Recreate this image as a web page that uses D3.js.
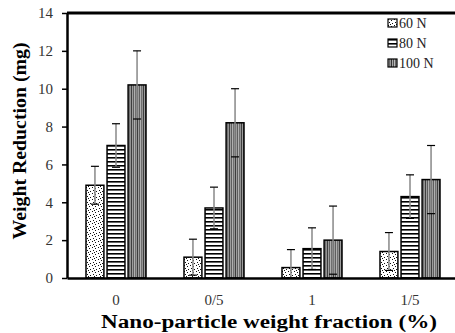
<!DOCTYPE html>
<html>
<head>
<meta charset="utf-8">
<script src="https://cdn.jsdelivr.net/npm/d3@7"></script>
<style>
  body { margin: 0; background: #fff; }
  text { font-family: "Liberation Serif", "Times New Roman", serif; }
</style>
</head>
<body>
<div id="chart"></div>
<script>
// data
var categories = ["0", "0/5", "1", "1/5"];
var seriesNames = ["60 N", "80 N", "100 N"];
var load60 = [4.9, 1.1, 0.55, 1.4];
var load80 = [7.0, 3.7, 1.55, 4.3];
var load100 = [10.2, 8.2, 2.0, 5.2];
var err60 = [1.0, 0.95, 0.95, 1.0];
var err80 = [1.15, 1.1, 1.1, 1.15];
var err100 = [1.8, 1.8, 1.8, 1.8];
var yTicks = [0, 2, 4, 6, 8, 10, 12, 14];

var values = [load60, load80, load100];
var errors = [err60, err80, err100];
var fills = ["url(#dots)", "url(#hstripes)", "url(#vstripes)"];

var width = 455, height = 333;
var margin = {top: 13, right: -4, bottom: 55, left: 67};
var innerW = width - margin.left - margin.right,
    innerH = height - margin.top - margin.bottom;

var svg = d3.select("#chart").append("svg")
    .attr("width", width)
    .attr("height", height);

// fill patterns
var defs = svg.append("defs");
var p1 = defs.append("pattern").attr("id", "dots")
    .attr("patternUnits", "userSpaceOnUse").attr("width", 6).attr("height", 6);
p1.append("rect").attr("width", 6).attr("height", 6).attr("fill", "#fff");
[[0,0],[3,1],[1,3],[4,4],[2,5]].forEach(function(d) {
  p1.append("rect").attr("x", d[0]).attr("y", d[1]).attr("width", 1).attr("height", 1).attr("fill", "#111");
});
var p2 = defs.append("pattern").attr("id", "hstripes")
    .attr("patternUnits", "userSpaceOnUse").attr("width", 4).attr("height", 4);
p2.append("rect").attr("width", 4).attr("height", 4).attr("fill", "#fff");
p2.append("rect").attr("y", 0).attr("width", 4).attr("height", 1.6).attr("fill", "#000");
var p3 = defs.append("pattern").attr("id", "vstripes")
    .attr("patternUnits", "userSpaceOnUse").attr("width", 6).attr("height", 6);
["#bbb", "#666", "#999", "#333", "#aaa", "#555"].forEach(function(c, i) {
  p3.append("rect").attr("x", i).attr("width", 1).attr("height", 6).attr("fill", c);
});

var g = svg.append("g")
    .attr("transform", "translate(" + margin.left + "," + margin.top + ")");

var x0 = d3.scaleBand().domain(categories).range([0, innerW]).paddingInner(0).paddingOuter(0);
var x1 = d3.scaleBand().domain(seriesNames).range([19, x0.bandwidth() - 19]).paddingInner(0.15);
var y = d3.scaleLinear().domain([0, 14]).range([innerH, 0]);

// y axis
var yAxis = g.append("g")
    .call(d3.axisLeft(y).tickValues(yTicks).tickSize(5).tickSizeOuter(0).tickFormat(d3.format("d")));
yAxis.select(".domain").attr("stroke-width", 2.5);
yAxis.selectAll(".tick line").attr("stroke-width", 1.5);
yAxis.selectAll("text").attr("font-size", 15).attr("fill", "#333").attr("x", -14);

// top frame line
g.append("line")
    .attr("x1", 0).attr("x2", innerW).attr("y1", 0).attr("y2", 0)
    .attr("stroke", "#000").attr("stroke-width", 3);

// bars
var rows = [];
categories.forEach(function(c, ci) {
  seriesNames.forEach(function(s, si) {
    rows.push({cat: c, s: s, si: si, v: values[si][ci], e: errors[si][ci]});
  });
});

var bars = g.selectAll(".bar").data(rows).enter().append("g")
    .attr("transform", function(d) { return "translate(" + (x0(d.cat) + x1(d.s)) + ",0)"; });

bars.append("rect")
    .attr("x", 0)
    .attr("y", function(d) { return y(d.v); })
    .attr("width", x1.bandwidth())
    .attr("height", function(d) { return y(0) - y(d.v); })
    .attr("fill", function(d) { return fills[d.si]; })
    .attr("stroke", "#000").attr("stroke-width", 1.5);

// error bars
var bw = x1.bandwidth();
bars.append("line")
    .attr("x1", bw / 2).attr("x2", bw / 2)
    .attr("y1", function(d) { return y(d.v + d.e); })
    .attr("y2", function(d) { return y(Math.max(0, d.v - d.e)); })
    .attr("stroke", "#888").attr("stroke-width", 1.5);
bars.append("line")
    .attr("x1", bw / 2 - 4).attr("x2", bw / 2 + 4)
    .attr("y1", function(d) { return y(d.v + d.e); })
    .attr("y2", function(d) { return y(d.v + d.e); })
    .attr("stroke", "#000").attr("stroke-width", 1.2);
bars.append("line")
    .attr("x1", bw / 2 - 4).attr("x2", bw / 2 + 4)
    .attr("y1", function(d) { return y(Math.max(0, d.v - d.e)); })
    .attr("y2", function(d) { return y(Math.max(0, d.v - d.e)); })
    .attr("stroke", "#000").attr("stroke-width", 1.2);

// x axis
var xAxis = g.append("g")
    .attr("transform", "translate(0," + innerH + ")")
    .call(d3.axisBottom(x0).tickSize(0).tickSizeOuter(0));
xAxis.select(".domain").attr("stroke-width", 2.5);
xAxis.selectAll("text").attr("font-size", 15).attr("fill", "#333").attr("dy", "1.6em");

// legend
var legend = g.selectAll(".legend").data(seriesNames).enter().append("g")
    .attr("transform", function(d, i) { return "translate(321," + (6 + i * 20) + ")"; });
legend.append("rect")
    .attr("width", 9).attr("height", 8)
    .attr("fill", function(d, i) { return fills[i]; })
    .attr("stroke", "#000").attr("stroke-width", 1.2);
legend.append("text")
    .attr("x", 11).attr("y", 9)
    .attr("font-size", 14).attr("fill", "#222")
    .text(function(d) { return d; });

// axis titles
svg.append("text")
    .attr("transform", "translate(26,141) rotate(-90)")
    .attr("text-anchor", "middle")
    .attr("font-size", 18).attr("font-weight", "bold")
    .attr("textLength", 197).attr("lengthAdjust", "spacingAndGlyphs")
    .text("Weight Reduction (mg)");
svg.append("text")
    .attr("x", 269).attr("y", 328)
    .attr("text-anchor", "middle")
    .attr("font-size", 18).attr("font-weight", "bold")
    .attr("textLength", 336).attr("lengthAdjust", "spacingAndGlyphs")
    .text("Nano-particle weight fraction (%)");
</script>
</body>
</html>
